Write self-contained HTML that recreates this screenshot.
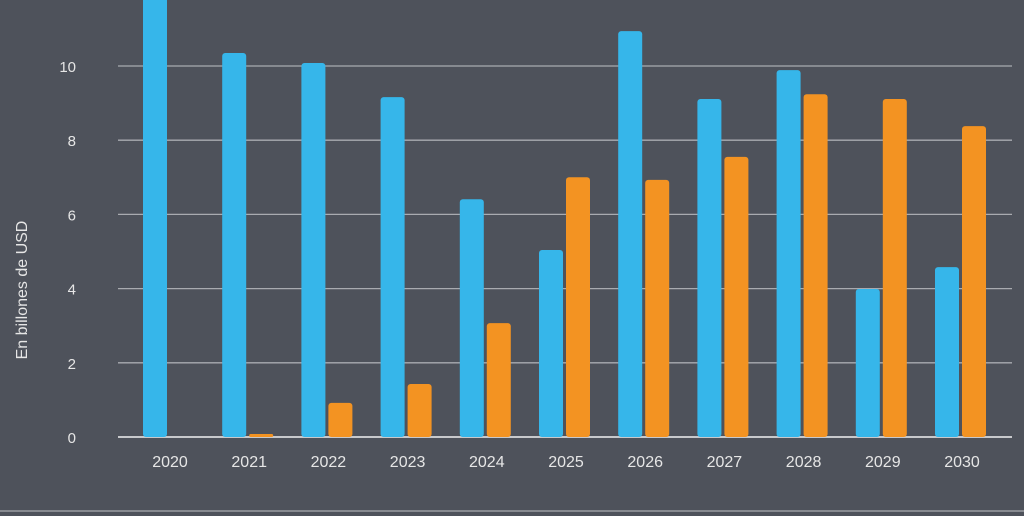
<!DOCTYPE html>
<html><head><meta charset="utf-8"><style>
html,body{margin:0;padding:0;background:#4e525b;}
svg{display:block;font-family:"Liberation Sans",sans-serif;}
</style></head><body>
<svg id="chart" width="1024" height="516" viewBox="0 0 1024 516">
<rect x="0" y="0" width="1024" height="516" fill="#4e525b"/>
<g id="grid"></g><g id="bars"></g><g id="labels"></g>
<text transform="translate(27,290) rotate(-90)" text-anchor="middle" fill="#e6e6e6" font-size="16">En billones de USD</text>
<line x1="0" y1="511" x2="1024" y2="511" stroke="#9a9ca2" stroke-width="1.5"/>
</svg>
<script>
const categories=["2020","2021","2022","2023","2024","2025","2026","2027","2028","2029","2030"];
const blueValues=[12.2,10.35,10.08,9.16,6.41,5.04,10.94,9.11,9.89,3.99,4.58];
const orangeValues=[0,0.08,0.92,1.43,3.07,7.0,6.93,7.55,9.24,9.11,8.38];
const yTicks=[0,2,4,6,8,10];
const NS="http://www.w3.org/2000/svg";
const y=v=>437-v*37.1;
const x=i=>170+i*79.2;
function mk(t,a,p){const e=document.createElementNS(NS,t);for(const k in a)e.setAttribute(k,a[k]);p.appendChild(e);return e;}
const grid=document.getElementById('grid'),bars=document.getElementById('bars'),labels=document.getElementById('labels');
yTicks.forEach(t=>{
 if(t>0){const l=mk('line',{x1:118,x2:1012,y1:y(t),y2:y(t),stroke:'#a9abb0','stroke-width':1.3},grid);
 
 }
 const tx=mk('text',{x:76,y:y(t)+6,'text-anchor':'end',fill:'#e6e6e6','font-size':15},labels);tx.textContent=t;
 
 
});
const ax=mk('line',{x1:118,x2:1012,y1:437,y2:437,stroke:'#c8c9cc','stroke-width':2},grid);


function bar(cx,w,v,col,name){
 if(v<=0)return;
 const top=Math.max(y(v),-5),h=437-top;
 const r=mk('rect',{x:cx,y:top,width:w,height:h,rx:Math.min(3,h/2),fill:col},bars);
 
 
}
categories.forEach((c,i)=>{
 bar(x(i)-27,24,blueValues[i],'#36b6ea','bar-blue-'+c);
 bar(x(i),24,orangeValues[i],'#f39322','bar-orange-'+c);
 const tx=mk('text',{x:x(i),y:467,'text-anchor':'middle',fill:'#e6e6e6','font-size':16},labels);tx.textContent=c;
 
 
});
</script>
</body></html>
